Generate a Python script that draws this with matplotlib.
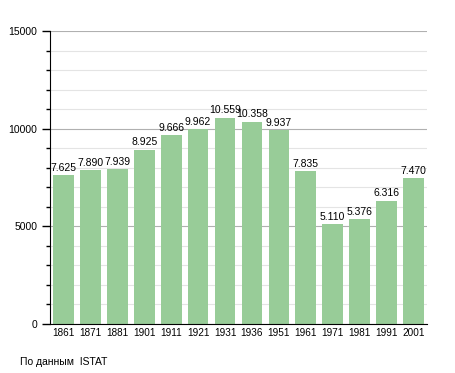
import matplotlib
matplotlib.use("Agg")
import matplotlib.pyplot as plt
from matplotlib.ticker import MultipleLocator

plt.rcParams["font.family"] = ["Liberation Sans", "DejaVu Sans"]

years = ["1861", "1871", "1881", "1901", "1911", "1921", "1931", "1936",
         "1951", "1961", "1971", "1981", "1991", "2001"]
population = [7625, 7890, 7939, 8925, 9666, 9962, 10559, 10358,
              9937, 7835, 5110, 5376, 6316, 7470]
y_ticks = [0, 5000, 10000, 15000]
source = "По данным  ISTAT"

fig = plt.figure(figsize=(4.55, 3.73), dpi=100)
ax = fig.add_axes([50/455, 1-324/373, 377/455, 293/373])

x = list(range(len(years)))
ax.bar(x, population, width=0.77, color="#98cc98", zorder=2)
for xi, v in zip(x, population):
    ax.text(xi, v + 120, f"{v:,}".replace(",", "."), ha="center", va="bottom",
            fontsize=7.5, color="black", zorder=3)

ax.set_xlim(-0.5, len(years) - 0.5)
ax.set_ylim(0, 15000)
ax.set_xticks(x)
ax.set_xticklabels(years, fontsize=7.2)
ax.set_yticks(y_ticks)
ax.set_yticklabels([str(t) for t in y_ticks], fontsize=7.5)
ax.yaxis.set_minor_locator(MultipleLocator(1000))
ax.tick_params(axis="x", length=0, pad=3)
ax.tick_params(axis="y", which="major", length=6, width=1, direction="out", pad=3)
ax.tick_params(axis="y", which="minor", length=3, width=1, direction="out")
ax.grid(axis="y", which="major", color="#b0b0b0", linewidth=0.8, zorder=0)
ax.grid(axis="y", which="minor", color="#e4e4e4", linewidth=0.8, zorder=0)
for s in ["top", "right"]:
    ax.spines[s].set_visible(False)
ax.spines["left"].set_color("black")
ax.spines["bottom"].set_color("black")

fig.text(20/455, 1-362/373, source, fontsize=7.5, va="center", ha="left")
fig.savefig("out.png", dpi=100)
